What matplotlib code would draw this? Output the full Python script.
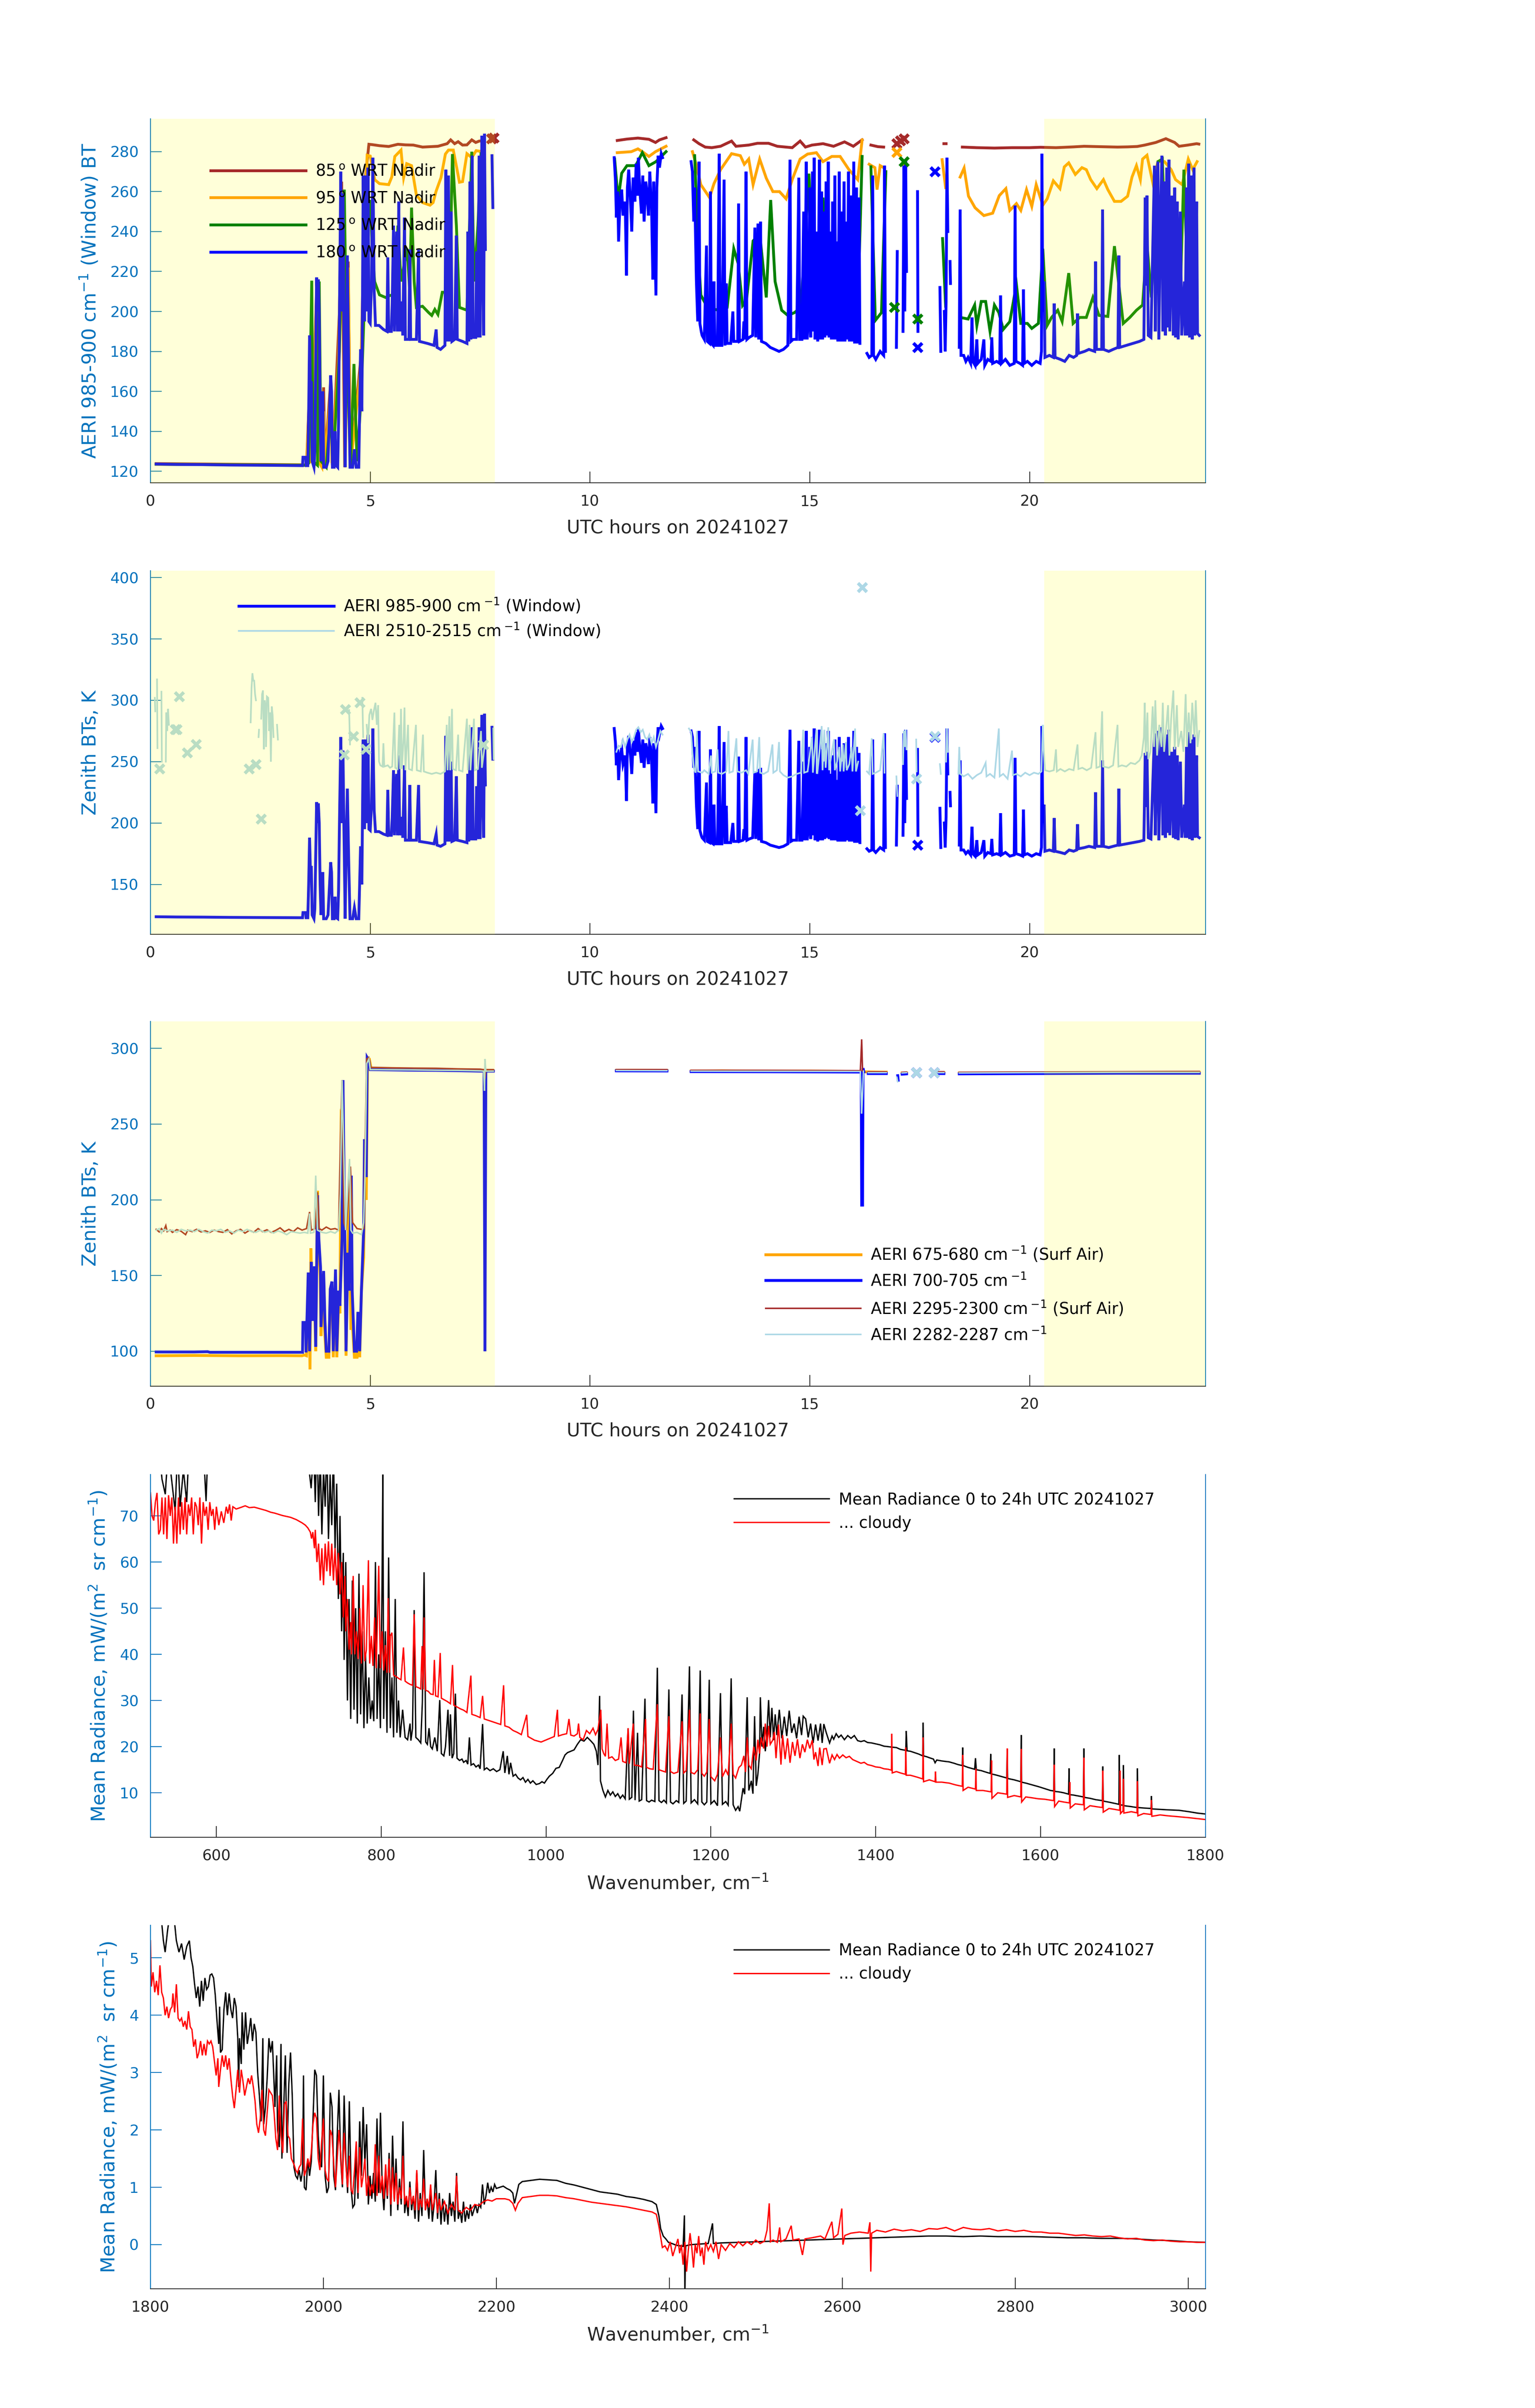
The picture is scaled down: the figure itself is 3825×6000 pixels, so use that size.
import numpy as np
import matplotlib.pyplot as plt
from matplotlib.font_manager import FontProperties

nan = np.nan

# ---------------- time series (UTC hours, K) ----------------
day_spans = [(0.0, 7.83), (20.33, 24.0)]

# 985-900 cm-1 window, zenith (180 deg WRT nadir) -- used in panels 1 and 2
bt_window = [
    (0.13, 123.6), (0.6, 123.4), (1.2, 123.3), (1.8, 123.1), (2.4, 123.0), (3.0, 122.9),
    (3.46, 122.8), (3.47, 127), (3.53, 127), (3.54, 122.8), (3.58, 122.8), (3.6, 150),
    (3.62, 188), (3.64, 160), (3.66, 165), (3.68, 125), (3.72, 122), (3.74, 130), (3.78, 217),
    (3.8, 200), (3.82, 216), (3.84, 200), (3.86, 150), (3.88, 125), (3.92, 160), (3.94, 122),
    (4.0, 122), (4.04, 125), (4.1, 168), (4.12, 160), (4.14, 122), (4.18, 122), (4.2, 140),
    (4.22, 123), (4.26, 122), (4.28, 145), (4.3, 200), (4.33, 270), (4.36, 200), (4.38, 259),
    (4.4, 200), (4.43, 122), (4.46, 195), (4.48, 228), (4.51, 170), (4.54, 122), (4.6, 122),
    (4.64, 131), (4.68, 122), (4.74, 122), (4.78, 181), (4.81, 150), (4.84, 268), (4.87, 195),
    (4.9, 268), (4.92, 200), (4.95, 272), (4.97, 195), (5.0, 194), (5.03, 215), (5.06, 277),
    (5.09, 210), (5.12, 193), (5.2, 193), (5.3, 191), (5.38, 190), (5.4, 227), (5.42, 190),
    (5.48, 190), (5.5, 204), (5.53, 243), (5.55, 190), (5.6, 240), (5.62, 190), (5.65, 255),
    (5.67, 190), (5.72, 205), (5.74, 188), (5.78, 247), (5.8, 186), (5.88, 186), (5.9, 231),
    (5.92, 186), (6.05, 186), (6.1, 231), (6.12, 185), (6.3, 184), (6.45, 183), (6.5, 191),
    (6.52, 182), (6.6, 181), (6.7, 183), (6.72, 271), (6.74, 185), (6.78, 268), (6.8, 185),
    (6.84, 250), (6.86, 185), (6.92, 186), (6.96, 238), (6.98, 186), (7.1, 185), (7.2, 184),
    (7.22, 240), (7.24, 185), (7.27, 265), (7.29, 186), (7.32, 278), (7.34, 187), (7.4, 187),
    (7.42, 230), (7.44, 187), (7.48, 278), (7.5, 187), (7.54, 288), (7.56, 231), (7.58, 188),
    (7.6, 289), (7.62, 231), (7.64, nan), (7.77, 278), (7.79, 252), (7.8, nan),
    (10.55, 277), (10.58, 265), (10.6, 247), (10.63, 260), (10.65, 235), (10.68, 254),
    (10.72, 261), (10.75, 248), (10.8, 255), (10.83, 218), (10.85, 262), (10.88, 271),
    (10.92, 255), (10.95, 240), (10.98, 267), (11.02, 255), (11.05, 274), (11.08, 258),
    (11.1, 277), (11.13, 262), (11.17, 249), (11.2, 268), (11.23, 245), (11.27, 265),
    (11.3, 258), (11.33, 248), (11.36, 270), (11.4, 252), (11.43, 216), (11.45, 265),
    (11.5, 208), (11.52, 262), (11.55, 278), (11.58, 272), (11.62, 279), (11.65, 277), (11.7, nan),
    (12.3, 275), (12.33, 270), (12.36, 245), (12.38, 262), (12.42, 215), (12.45, 195),
    (12.48, 275), (12.5, 194), (12.53, 190), (12.55, 188), (12.6, 186), (12.65, 233),
    (12.67, 185), (12.72, 184), (12.74, 260), (12.76, 184), (12.8, 183), (12.82, 215),
    (12.84, 183), (12.9, 183), (12.94, 279), (12.96, 183), (13.0, 183), (13.05, 266),
    (13.07, 183), (13.1, 214), (13.12, 184), (13.2, 184), (13.25, 200), (13.27, 185),
    (13.36, 185), (13.38, 254), (13.4, 185), (13.48, 186), (13.5, 195), (13.52, 186),
    (13.55, 270), (13.57, 186), (13.62, 187), (13.7, 188), (13.75, 242), (13.77, 187),
    (13.82, 244), (13.84, 186), (13.88, 245), (13.9, 185), (14.0, 184), (14.1, 182),
    (14.2, 181), (14.3, 180), (14.4, 181), (14.5, 183), (14.55, 276), (14.57, 185),
    (14.62, 186), (14.7, 186), (14.75, 267), (14.77, 186), (14.82, 186), (14.86, 250),
    (14.88, 186), (14.92, 275), (14.94, 186), (14.98, 200), (15.0, 262), (15.02, 187),
    (15.06, 270), (15.08, 190), (15.1, 277), (15.12, 186), (15.16, 240), (15.18, 185),
    (15.22, 276), (15.24, 186), (15.27, 260), (15.29, 186), (15.32, 250), (15.34, 187),
    (15.37, 265), (15.39, 188), (15.42, 275), (15.44, 187), (15.47, 240), (15.49, 186),
    (15.52, 255), (15.54, 186), (15.57, 268), (15.59, 186), (15.62, 235), (15.64, 185),
    (15.67, 270), (15.69, 185), (15.72, 250), (15.74, 185), (15.78, 265), (15.8, 185),
    (15.83, 245), (15.85, 186), (15.88, 270), (15.9, 185), (15.94, 258), (15.96, 185),
    (16.0, 275), (16.02, 184), (16.06, 262), (16.08, 184), (16.12, 257), (16.14, 184), (16.18, nan),
    (16.3, 179), (16.35, 177), (16.41, 178), (16.43, 268), (16.45, 178), (16.5, 176),
    (16.55, 178), (16.6, 180), (16.68, 178), (16.7, 273), (16.72, 180), (16.74, nan),
    (16.97, 182), (16.99, 230), (17.0, nan), (17.12, 190), (17.14, 273), (17.16, 200),
    (17.18, 276), (17.2, 220), (17.21, nan), (17.45, 260), (17.46, 190), (17.47, nan),
    (17.96, 212), (17.98, 180), (18.0, nan), (18.06, 200), (18.08, 180), (18.1, 205),
    (18.12, 277), (18.14, 240), (18.15, nan), (18.19, 225), (18.2, 214), (18.21, nan),
    (18.4, 182), (18.42, 251), (18.44, 178), (18.5, 178), (18.55, 175), (18.6, 177),
    (18.66, 174), (18.69, 197), (18.71, 175), (18.76, 173), (18.8, 186), (18.82, 174),
    (18.9, 176), (18.96, 186), (18.98, 173), (19.05, 176), (19.12, 175), (19.14, 187),
    (19.16, 174), (19.25, 175), (19.32, 174), (19.34, 208), (19.36, 174), (19.45, 176),
    (19.55, 173), (19.65, 174), (19.67, 253), (19.69, 175), (19.78, 174), (19.84, 173),
    (19.86, 211), (19.88, 174), (19.95, 175), (20.05, 173), (20.15, 175), (20.24, 174),
    (20.27, 180), (20.28, 279), (20.3, 200), (20.33, 215), (20.35, 177), (20.45, 178),
    (20.54, 177), (20.56, 204), (20.58, 177), (20.7, 176), (20.8, 175), (20.9, 178),
    (21.0, 177), (21.07, 178), (21.09, 199), (21.11, 179), (21.25, 180), (21.35, 181),
    (21.48, 180), (21.5, 225), (21.52, 181), (21.64, 181), (21.66, 251), (21.68, 181),
    (21.8, 180), (21.9, 181), (22.01, 182), (22.03, 228), (22.05, 182), (22.2, 183),
    (22.35, 184), (22.5, 185), (22.6, 186), (22.63, 257), (22.65, 213), (22.67, 258),
    (22.7, 188), (22.76, 187), (22.8, 230), (22.84, 273), (22.86, 190), (22.9, 268),
    (22.92, 275), (22.94, 186), (22.98, 250), (23.01, 278), (23.03, 190), (23.06, 265),
    (23.09, 188), (23.12, 272), (23.14, 192), (23.17, 276), (23.19, 190), (23.24, 258),
    (23.27, 188), (23.3, 262), (23.32, 187), (23.36, 255), (23.38, 186), (23.43, 250),
    (23.46, 188), (23.52, 215), (23.54, 188), (23.57, 262), (23.59, 188), (23.62, 274),
    (23.64, 187), (23.68, 268), (23.7, 186), (23.74, 272), (23.76, 188), (23.8, 255),
    (23.82, 189), (23.86, 188),
]
bt_window_marks = [(17.46, 182), (17.85, 270)]

bt_85 = [
    (0.13, 123.8), (3.5, 123.2), (3.55, 123.2), (3.62, 160), (3.66, 125), (3.78, 210),
    (3.82, 130), (3.9, 122), (3.94, 162), (3.97, 125), (4.1, 165), (4.14, 123), (4.3, 200),
    (4.35, 265), (4.42, 122), (4.5, 225), (4.55, 122), (4.8, 180), (4.88, 265), (4.97, 283.7),
    (5.05, 283.5), (5.21, 283), (5.42, 282.6), (5.63, 283.7), (5.8, 283.4), (5.98, 283.3),
    (6.19, 282.3), (6.54, 282.7), (6.75, 284), (6.83, 285.9), (6.92, 284), (7.0, 285),
    (7.1, 283.3), (7.2, 283.4), (7.31, 285.9), (7.4, 284.6), (7.48, 285.3), (7.59, 285.5), (7.62, nan),
    (10.62, 285.6), (10.84, 286.3), (11.09, 286.8), (11.34, 286.2), (11.49, 284.6),
    (11.58, 285.9), (11.73, 287), (11.75, nan),
    (12.36, 285.9), (12.48, 284), (12.62, 282.3), (12.77, 282), (12.97, 282.7), (13.22, 285.3),
    (13.32, 282.7), (13.61, 283.3), (13.81, 284.2), (14.06, 284.2), (14.26, 282.7), (14.6, 282),
    (14.78, 285.3), (14.9, 282.3), (15.05, 283.3), (15.3, 284), (15.54, 282.7), (15.79, 284.9),
    (15.99, 282.7), (16.19, 285.9), (16.21, nan),
    (16.39, 283.3), (16.55, 282.5), (16.68, 282.3), (16.7, nan), (18.05, 284), (18.1, 284), (18.11, nan),
    (18.47, 282.3), (18.8, 282), (19.2, 281.8), (19.6, 282), (20.0, 282), (20.25, 282.2),
    (20.6, 282), (21.0, 282.4), (21.24, 282.7), (21.6, 282.5), (22.0, 282.3), (22.23, 282.4),
    (22.45, 282.6), (22.62, 283.3), (22.87, 284.6), (23.1, 286.5), (23.3, 284.6), (23.4, 282.7),
    (23.6, 283.3), (23.8, 284), (23.85, 283.8),
]
bt_85_marks = [(7.76, 286.5), (7.82, 286.8), (16.98, 284), (17.06, 285.5), (17.15, 286.5)]

bt_95 = [
    (0.13, 123.5), (3.55, 123), (3.62, 155), (3.66, 124), (3.78, 205), (3.82, 125), (3.9, 122),
    (3.94, 150), (3.97, 123), (4.1, 160), (4.13, 124), (4.28, 175), (4.31, 213), (4.35, 260),
    (4.4, 215), (4.43, 122), (4.5, 222), (4.55, 122), (4.8, 175), (4.88, 255), (4.93, 278.2),
    (5.0, 277.8), (5.1, 266), (5.21, 264), (5.42, 263.5), (5.49, 267.3), (5.56, 277.6),
    (5.7, 280.8), (5.76, 267), (5.83, 274), (5.94, 273), (6.05, 258.3), (6.19, 254.5),
    (6.36, 253.2), (6.43, 254.5), (6.5, 260.3), (6.61, 267), (6.71, 278.8), (6.78, 280.8),
    (6.89, 280.8), (7.03, 264.7), (7.1, 265), (7.2, 279), (7.31, 277), (7.41, 280.5),
    (7.55, 280), (7.6, nan),
    (10.62, 279.5), (10.94, 280), (11.09, 281.4), (11.19, 280), (11.34, 277.6), (11.49, 280),
    (11.73, 282.7), (11.75, nan),
    (12.33, 280), (12.43, 272.4), (12.52, 263.5), (12.72, 257), (12.82, 264), (12.97, 271),
    (13.22, 279), (13.42, 278), (13.51, 273.7), (13.61, 276.3), (13.71, 263.5), (13.86, 276.3),
    (14.01, 266.7), (14.16, 260), (14.31, 260), (14.46, 256.4), (14.6, 266), (14.78, 276.3),
    (14.95, 278.8), (15.15, 279.5), (15.3, 275), (15.5, 277.6), (15.69, 277.6), (15.89, 271),
    (16.09, 266), (16.19, 285.9), (16.21, nan),
    (16.35, 273.7), (16.48, 272), (16.53, 261), (16.6, 273), (16.68, 272), (16.74, nan),
    (17.13, 275), (17.16, 268.6), (17.17, nan), (18.01, 276), (18.09, 262), (18.1, nan),
    (18.42, 267.3), (18.51, 271.8), (18.61, 257.7), (18.76, 251.9), (18.96, 248), (19.16, 249.2),
    (19.31, 258), (19.46, 261.5), (19.55, 250.6), (19.7, 254), (19.8, 250.6), (19.93, 261),
    (20.05, 252.6), (20.15, 263.5), (20.3, 253.2), (20.4, 256.4), (20.54, 265.4), (20.69, 261.5),
    (20.79, 272.4), (20.89, 274.4), (21.04, 268.6), (21.19, 272), (21.29, 271), (21.39, 266),
    (21.53, 261.5), (21.68, 266), (21.78, 261), (21.93, 255.1), (22.08, 255.1), (22.23, 257.7),
    (22.33, 267.3), (22.43, 273), (22.52, 266), (22.57, 276.3), (22.67, 278.2), (22.8, 264.7),
    (22.92, 275), (23.07, 275), (23.22, 271), (23.32, 266), (23.47, 263.5), (23.61, 276.3),
    (23.71, 271), (23.81, 275),
]
bt_95_marks = [(16.98, 279.5)]

bt_125 = [
    (0.13, 123.5), (3.55, 123), (3.6, 124), (3.67, 215.4), (3.7, 125), (3.8, 123), (3.84, 215),
    (3.88, 125), (4.0, 122), (4.1, 150), (4.15, 123), (4.3, 180), (4.35, 230), (4.41, 261),
    (4.45, 200), (4.5, 160), (4.55, 122), (4.63, 173.7), (4.7, 125), (4.8, 160), (4.86, 200),
    (4.92, 240), (5.0, 255.8), (5.05, 230), (5.1, 215), (5.21, 208.3), (5.35, 207), (5.45, 208),
    (5.56, 208.3), (5.63, 243), (5.7, 215), (5.84, 231.4), (5.9, 210), (5.94, 252), (6.0, 215),
    (6.05, 202), (6.19, 202.6), (6.33, 199.4), (6.4, 198), (6.47, 201), (6.54, 198.5),
    (6.64, 209.6), (6.71, 209.6), (6.8, 205), (6.87, 278.8), (6.96, 243), (7.03, 202),
    (7.2, 200.6), (7.31, 280), (7.36, 215), (7.45, 243), (7.52, 279), (7.6, nan),
    (10.56, 276.3), (10.64, 255.8), (10.72, 269.2), (10.84, 273), (11.04, 273), (11.19, 279.5),
    (11.34, 273), (11.5, 275), (11.73, 280), (11.75, nan),
    (12.38, 278), (12.48, 223.7), (12.52, 208.3), (12.67, 202), (12.92, 200.6), (13.12, 202),
    (13.27, 231.4), (13.37, 224), (13.47, 203), (13.56, 205.8), (13.71, 235.3), (13.86, 239),
    (14.01, 207), (14.11, 255.8), (14.21, 215), (14.36, 200.6), (14.5, 198), (14.65, 199.4),
    (14.8, 202), (14.98, 269), (15.1, 203.2), (15.3, 257), (15.4, 220), (15.54, 199.4),
    (15.89, 199.4), (16.09, 199.4), (16.19, 277.6), (16.21, nan),
    (16.39, 272.4), (16.49, 195.5), (16.63, 199.4), (16.73, 270), (16.75, nan),
    (18.02, 236.5), (18.09, 202.6), (18.1, nan),
    (18.47, 196.8), (18.6, 196.2), (18.75, 203.2), (18.8, 193), (18.9, 205), (19.0, 205),
    (19.1, 190), (19.2, 203.2), (19.3, 199.4), (19.4, 191), (19.55, 194.9), (19.7, 213.5),
    (19.8, 194), (19.95, 194), (20.05, 191.5), (20.2, 194), (20.3, 231.4), (20.4, 193),
    (20.5, 197), (20.64, 200.6), (20.74, 195), (20.89, 219.2), (20.99, 194), (21.14, 197),
    (21.29, 197), (21.44, 207), (21.58, 198), (21.78, 197.5), (21.93, 232.7), (22.13, 194),
    (22.28, 197), (22.43, 200.6), (22.57, 203.2), (22.67, 234), (22.77, 207), (22.92, 275),
    (23.02, 276.3), (23.12, 210), (23.22, 205.8), (23.42, 203.2), (23.51, 271), (23.61, 203.2),
    (23.71, 250), (23.81, 205),
]
bt_125_marks = [(16.93, 202), (17.15, 275), (17.46, 196.2)]

# 2510-2515 cm-1 window
bt_2510 = [
    (0.1, 302), (0.11, 291), (0.12, nan), (0.15, 317), (0.16, 261), (0.17, nan),
    (0.25, 307), (0.26, 250), (0.27, nan), (0.35, 250), (0.36, 290), (0.38, 275), (0.4, 293),
    (0.42, 280), (0.44, nan),
    (2.28, 282), (2.3, 310), (2.32, 322), (2.34, 316), (2.36, 316), (2.38, 305), (2.4, 300), (2.42, nan),
    (2.46, 270), (2.47, 276), (2.48, nan), (2.52, 285), (2.54, 305), (2.56, 308), (2.58, 260),
    (2.6, 300), (2.62, 295), (2.63, 262), (2.65, 303), (2.68, 302), (2.7, 275), (2.72, 290),
    (2.74, 250), (2.76, 295), (2.78, 288), (2.8, 270), (2.82, nan), (2.88, 280), (2.9, 268), (2.92, nan),
    (4.52, 292), (4.54, 264), (4.55, nan), (4.82, 302), (4.84, 270), (4.85, nan),
    (4.92, 280), (4.95, 265), (4.98, 288), (5.02, 293), (5.05, 284), (5.08, 291), (5.12, 298),
    (5.15, 280), (5.18, 296), (5.2, 250), (5.23, 247), (5.28, 246), (5.3, 265), (5.32, 246),
    (5.4, 247), (5.45, 245), (5.5, 246), (5.55, 290), (5.57, 245), (5.62, 244), (5.66, 280),
    (5.68, 244), (5.7, 293), (5.72, 244), (5.76, 270), (5.78, 294), (5.8, 243), (5.86, 280),
    (5.88, 244), (5.95, 243), (6.04, 280), (6.06, 243), (6.15, 242), (6.2, 272), (6.22, 242),
    (6.3, 241), (6.4, 240), (6.5, 241), (6.6, 240), (6.7, 242), (6.74, 280), (6.76, 243),
    (6.8, 287), (6.82, 243), (6.86, 293), (6.88, 244), (6.95, 243), (7.0, 272), (7.02, 243),
    (7.1, 242), (7.2, 285), (7.22, 243), (7.26, 280), (7.28, 243), (7.36, 285), (7.38, 243),
    (7.45, 244), (7.52, 275), (7.54, 245), (7.6, 262), (7.62, nan), (7.8, 277), (7.81, 252), (7.82, nan),
    (10.6, 258), (10.65, 263), (10.7, 262), (10.75, 268), (10.8, 262), (10.85, 268), (10.9, 272),
    (10.95, 266), (11.0, 270), (11.05, 276), (11.1, 278), (11.15, 274), (11.2, 276), (11.25, 270),
    (11.3, 268), (11.35, 272), (11.4, 265), (11.45, 270), (11.5, 262), (11.55, 268), (11.6, 275),
    (11.65, 272), (11.7, nan),
    (12.25, 277), (12.3, 274), (12.33, 257), (12.36, 245), (12.4, 241), (12.43, 275),
    (12.46, 242), (12.55, 241), (12.6, 243), (12.7, 240), (12.75, 255), (12.77, 241),
    (12.85, 242), (12.9, 260), (12.92, 241), (13.0, 240), (13.1, 242), (13.15, 275),
    (13.17, 241), (13.25, 242), (13.33, 269), (13.35, 242), (13.45, 241), (13.55, 243),
    (13.6, 240), (13.7, 268), (13.72, 241), (13.8, 242), (13.85, 270), (13.87, 241),
    (13.95, 240), (14.05, 242), (14.15, 264), (14.17, 241), (14.25, 243), (14.3, 266),
    (14.32, 242), (14.4, 239), (14.5, 237), (14.6, 238), (14.7, 240), (14.8, 241), (14.85, 276),
    (14.87, 241), (14.95, 242), (15.05, 270), (15.07, 241), (15.15, 276), (15.17, 240),
    (15.22, 258), (15.27, 279), (15.29, 243), (15.33, 276), (15.36, 245), (15.42, 278),
    (15.44, 243), (15.5, 258), (15.55, 268), (15.57, 243), (15.62, 250), (15.67, 262),
    (15.69, 242), (15.75, 264), (15.77, 242), (15.82, 266), (15.84, 243), (15.9, 248),
    (15.95, 262), (15.97, 242), (16.03, 277), (16.05, 242), (16.1, 250), (16.14, nan),
    (16.3, 242), (16.35, 240), (16.41, 269), (16.43, 240), (16.5, 241), (16.6, 243),
    (16.68, 273), (16.7, 241), (16.74, nan), (16.97, 238), (16.99, 222), (17.0, nan),
    (17.12, 248), (17.14, 275), (17.16, 262), (17.18, 276), (17.2, 260), (17.21, nan),
    (17.42, 268), (17.43, 242), (17.44, nan), (17.96, 248), (17.98, 240), (17.99, nan),
    (18.1, 250), (18.12, 277), (18.14, 258), (18.15, nan),
    (18.38, 240), (18.4, 262), (18.42, 240), (18.5, 238), (18.6, 240), (18.7, 236), (18.8, 239),
    (18.9, 241), (19.0, 249), (19.02, 238), (19.1, 240), (19.2, 237), (19.3, 277), (19.32, 238),
    (19.4, 240), (19.5, 236), (19.6, 259), (19.62, 239), (19.7, 240), (19.8, 238), (19.9, 241),
    (20.0, 239), (20.1, 241), (20.2, 240), (20.27, 242), (20.3, 280), (20.32, 260), (20.35, 243),
    (20.45, 242), (20.55, 243), (20.6, 260), (20.62, 242), (20.7, 244), (20.8, 242), (20.9, 244),
    (21.0, 243), (21.09, 264), (21.11, 244), (21.2, 245), (21.3, 243), (21.4, 245), (21.5, 274),
    (21.52, 245), (21.6, 246), (21.65, 291), (21.67, 246), (21.8, 245), (21.9, 247), (22.0, 280),
    (22.02, 246), (22.1, 247), (22.2, 246), (22.3, 249), (22.4, 248), (22.5, 251), (22.55, 255),
    (22.6, 270), (22.62, 298), (22.64, 255), (22.68, 290), (22.7, 252), (22.75, 258), (22.8, 295),
    (22.83, 262), (22.86, 300), (22.9, 255), (22.95, 280), (23.0, 262), (23.03, 298), (23.06, 258),
    (23.1, 275), (23.15, 296), (23.18, 255), (23.22, 285), (23.27, 308), (23.3, 260), (23.35, 296),
    (23.38, 262), (23.45, 275), (23.5, 258), (23.55, 305), (23.58, 262), (23.62, 290),
    (23.66, 265), (23.7, 298), (23.75, 270), (23.78, 300), (23.82, 262), (23.86, 275),
]
bt_2510_marks = [
    (0.21, 244), (0.57, 276), (0.6, 276), (0.66, 303), (0.84, 257), (1.04, 264), (2.25, 244),
    (2.4, 247.5), (2.52, 203), (4.41, 255.6), (4.44, 292.3), (4.62, 270.5), (4.77, 298),
    (4.9, 260), (7.58, 263.6), (16.15, 210), (16.2, 392), (17.43, 236), (17.85, 270.5),
]

# panel 3: surface-air channels
bt_675 = [
    (0.13, 97), (1.0, 97.2), (2.0, 97.0), (3.0, 97.1), (3.45, 97), (3.5, 97.5), (3.55, 97),
    (3.58, 120), (3.6, 150), (3.63, 88), (3.65, 168), (3.68, 130), (3.72, 150), (3.76, 100),
    (3.8, 206), (3.83, 170), (3.86, 150), (3.88, 110), (3.92, 145), (3.96, 115), (4.0, 96),
    (4.06, 96), (4.09, 135), (4.13, 140), (4.16, 96), (4.21, 145), (4.24, 96), (4.28, 130),
    (4.31, 125), (4.34, 254), (4.38, 250), (4.42, 170), (4.45, 97), (4.49, 160), (4.52, 213),
    (4.56, 115), (4.6, 115), (4.64, 96), (4.7, 96), (4.72, 120), (4.76, 96), (4.8, 140),
    (4.85, 162), (4.88, 230), (4.91, 200), (4.94, 294), (4.98, 293), (5.02, 286.5), (5.5, 286.4),
    (6.0, 286.3), (6.5, 286), (7.0, 285.8), (7.5, 285.6), (7.8, 285.2), (7.82, nan),
    (10.6, 285.5), (11.0, 285.6), (11.5, 285.5), (11.75, 285.4), (11.76, nan),
    (12.3, 285), (13.0, 285.2), (14.0, 284.9), (15.0, 285), (16.0, 284.8), (16.18, 284.8), (16.2, nan),
    (16.25, 284.5), (16.74, 284.3), (16.75, nan), (17.1, 283.8), (17.2, 283.8), (17.21, nan),
    (17.9, 284), (18.05, 284), (18.06, nan), (18.4, 283.8), (20.0, 283.9), (22.0, 284), (23.86, 284.2),
]
bt_700 = [
    (0.13, 99.5), (1.0, 99.5), (1.3, 99.7), (1.35, 99.3), (2.0, 99.3), (3.0, 99.3), (3.46, 99.3),
    (3.47, 119), (3.53, 119), (3.54, 99.3), (3.59, 152), (3.62, 100), (3.66, 159), (3.69, 120),
    (3.73, 156), (3.76, 103), (3.8, 203), (3.83, 175), (3.87, 155), (3.88, 116), (3.94, 153),
    (3.97, 120), (4.0, 100), (4.06, 100), (4.09, 141), (4.13, 146), (4.16, 100), (4.21, 154),
    (4.24, 100), (4.28, 140), (4.31, 130), (4.36, 175), (4.38, 279), (4.42, 180), (4.45, 100),
    (4.49, 165), (4.52, 140), (4.57, 216), (4.59, 140), (4.64, 100), (4.69, 100), (4.72, 126),
    (4.76, 100), (4.8, 140), (4.85, 180), (4.87, 240), (4.91, 215), (4.93, 294), (4.97, 292),
    (5.0, 286), (5.5, 285.8), (6.0, 285.6), (6.5, 285.5), (7.0, 285.3), (7.5, 285), (7.59, 285),
    (7.61, 100), (7.63, 285), (7.8, 285), (7.82, nan),
    (10.6, 285.2), (11.75, 285.1), (11.76, nan),
    (12.3, 284.7), (14.0, 284.6), (16.15, 284.4), (16.17, 284), (16.18, 196.5), (16.2, 196.5),
    (16.21, 287), (16.23, 284.5), (16.25, nan), (16.33, 283.4), (16.74, 283.4), (16.75, nan),
    (17.0, 282), (17.01, 279), (17.02, nan), (17.1, 283), (17.2, 283.2), (17.21, nan),
    (17.9, 283.4), (18.05, 283.4), (18.06, nan), (18.4, 283.2), (20.0, 283.4), (22.0, 283.6),
    (23.86, 283.6),
]
bt_2295 = [
    (0.13, 180.5), (0.2, 178.8), (0.25, 181), (0.3, 179.5), (0.35, 183), (0.38, 179), (0.45, 180),
    (0.5, 178.5), (0.6, 180.3), (0.7, 179.2), (0.8, 177), (0.85, 180), (0.95, 179), (1.05, 180.5),
    (1.15, 178.8), (1.25, 179.5), (1.35, 178.5), (1.45, 180), (1.55, 179), (1.65, 178.5),
    (1.75, 180.3), (1.85, 177.5), (1.95, 179.5), (2.05, 180.5), (2.15, 178), (2.25, 179.8),
    (2.35, 178.6), (2.45, 181), (2.55, 179), (2.65, 180.2), (2.75, 178.5), (2.85, 179.8),
    (2.95, 181.5), (3.05, 179), (3.15, 180.5), (3.25, 179), (3.35, 181.5), (3.45, 180),
    (3.55, 181), (3.62, 192), (3.66, 180), (3.75, 181), (3.8, 205), (3.84, 181), (3.9, 180),
    (4.0, 182), (4.1, 180.5), (4.2, 181), (4.28, 180), (4.33, 250), (4.36, 279), (4.4, 185),
    (4.45, 180), (4.5, 200), (4.55, 222), (4.6, 185), (4.7, 181), (4.8, 180.5), (4.85, 181),
    (4.88, 230), (4.92, 293), (4.97, 294), (5.0, 287.5), (5.5, 287.2), (6.0, 287), (6.5, 286.9),
    (7.0, 286.5), (7.5, 286.3), (7.58, 286), (7.61, 280), (7.63, 286), (7.8, 286), (7.82, nan),
    (10.6, 286), (11.75, 286), (11.76, nan),
    (12.3, 285.5), (14.0, 285.5), (16.15, 285.3), (16.18, 306), (16.2, 285), (16.22, nan),
    (16.33, 284.5), (16.74, 284.5), (16.75, nan), (17.1, 284.2), (17.2, 284.4), (17.21, nan),
    (17.9, 284.6), (18.05, 284.6), (18.06, nan), (18.4, 284.2), (20.0, 284.4), (22.0, 284.6),
    (23.86, 284.8),
]
bt_2282 = [
    (0.13, 180), (0.2, 181), (0.25, 178), (0.3, 180.5), (0.4, 179.5), (0.5, 180), (0.6, 178.5),
    (0.7, 180.5), (0.8, 179.5), (0.9, 180), (1.0, 179), (1.1, 180.5), (1.2, 179), (1.3, 178),
    (1.4, 180), (1.5, 179.5), (1.6, 180.5), (1.7, 178.5), (1.8, 179.5), (1.9, 178), (2.0, 180),
    (2.1, 179), (2.2, 180.5), (2.3, 179), (2.4, 178.5), (2.5, 180), (2.6, 178.5), (2.7, 179.5),
    (2.8, 178), (2.9, 179.5), (3.0, 178.5), (3.1, 177), (3.2, 179), (3.3, 178.5), (3.4, 178),
    (3.5, 178.5), (3.58, 178), (3.62, 191), (3.64, 178), (3.72, 178.5), (3.76, 216), (3.78, 200),
    (3.8, 180), (3.9, 178.5), (4.0, 178), (4.1, 179), (4.2, 178), (4.28, 180), (4.32, 204),
    (4.36, 279), (4.4, 230), (4.44, 180), (4.5, 213), (4.53, 227), (4.56, 180), (4.6, 178),
    (4.7, 178.5), (4.8, 177), (4.85, 185), (4.88, 215), (4.92, 290), (4.97, 293), (5.0, 286),
    (5.5, 285.9), (6.0, 285.8), (6.5, 285.6), (7.0, 285.5), (7.5, 285.2), (7.58, 285),
    (7.6, 272), (7.61, 293), (7.63, 285), (7.8, 285), (7.82, nan),
    (10.6, 285.4), (11.75, 285.3), (11.76, nan),
    (12.3, 285), (16.15, 284.8), (16.18, 257), (16.2, 270), (16.22, 285), (16.23, nan),
    (16.33, 284), (16.74, 284), (16.75, nan), (16.98, 281), (17.0, 278), (17.01, nan),
    (17.1, 283.8), (17.2, 284), (17.21, nan), (17.9, 284), (18.05, 284), (18.06, nan),
    (18.4, 283.8), (20.0, 284), (22.0, 284.2), (23.86, 284.2),
]
p3_marks = [(17.43, 284), (17.83, 284)]

# ---------------- mean spectra (cm-1, mW/(m2 sr cm-1)) ----------------
rad_all_lw = [
    (520, 84), (525, 80), (530, 86), (534, 78), (538, 74.7), (541, 83), (545, 79), (550, 71),
    (553, 85), (556, 72), (560, 80), (564, 73), (567, 86), (575, 84), (580, 87), (585, 82),
    (587.5, 73.2), (590, 86), (600, 88), (620, 89), (650, 90), (680, 89), (700, 87), (710, 84),
    (715, 76), (718, 85), (720, 73), (722, 88), (724, 70), (726, 83), (728, 66), (730, 80),
    (732, 72), (734, 86), (736, 65), (738, 79), (740, 68), (742, 84), (744, 63), (746, 77),
    (748, 52), (750, 70), (752, 45), (754, 62), (755, 38.8), (757, 60), (759, 30), (761, 52),
    (763, 26), (765, 56), (767, 28), (769, 50), (771, 25), (773, 57.5), (775, 27), (777, 45),
    (779, 24), (781, 40), (783, 25), (785, 35), (787, 26), (789, 30), (791, 25.5), (793, 60),
    (795, 26), (797, 40), (799, 24), (801, 55), (802, 80), (803, 26), (805, 45), (807, 23),
    (809, 61), (811, 24), (813, 35), (815, 22), (817, 52), (819, 23), (821, 30), (823, 22),
    (826, 28), (829, 22), (832, 21.5), (835, 25), (836, 21.3), (838, 24), (840, 49.6), (842, 22),
    (845, 21.5), (848, 20.8), (850, 30), (852, 57.8), (854, 21), (856, 20.5), (858, 24),
    (860, 20), (862, 19.5), (865, 22), (868, 19), (871, 30.1), (873, 18.5), (876, 18), (878, 20),
    (881, 28), (883, 18), (884, 27), (886, 17.5), (888, 18.5), (890, 31.5), (892, 17.5),
    (895, 17), (898, 17.3), (900, 16.6), (903, 17), (905, 16.2), (907, 22), (909, 16),
    (912, 16.3), (915, 15.6), (918, 16), (920, 15.2), (923, 24.9), (925, 15), (928, 15.4),
    (932, 14.8), (936, 15.2), (940, 14.6), (944, 15), (948, 19), (950, 14.3), (953, 18),
    (955, 14), (957, 16.5), (960, 13.6), (963, 14), (966, 13.2), (969, 12.8), (972, 13.3),
    (975, 12.3), (978, 12.9), (981, 12.1), (984, 12.6), (988, 11.8), (992, 12), (995, 12.4),
    (998, 12.1), (1001, 12.9), (1004, 13.6), (1008, 14.2), (1012, 15.3), (1016, 15.5),
    (1020, 17), (1023, 18.2), (1026, 18.7), (1030, 19), (1034, 19.3), (1038, 20.5), (1042, 21.5),
    (1046, 21.2), (1050, 22), (1054, 21.3), (1058, 20.5), (1061, 19), (1063, 16), (1065, 31),
    (1066, 12.6), (1069, 10.5), (1072, 9.1), (1075, 10.5), (1078, 9.5), (1081, 10.2),
    (1084, 9.2), (1087, 9.8), (1090, 8.8), (1093, 9.5), (1096, 8.7), (1099.6, 24), (1101, 8.6),
    (1104, 9), (1106, 27.8), (1108, 8.4), (1111, 23), (1113, 8.2), (1116, 8.5), (1120, 30.4),
    (1122, 8.3), (1125, 8), (1128, 8.4), (1132, 8.1), (1135, 37.1), (1137, 8.3), (1140, 7.9),
    (1143, 8.4), (1146, 7.8), (1149, 32.4), (1151, 8), (1154, 7.6), (1158, 8.3), (1161, 7.9),
    (1165, 31.3), (1167, 7.7), (1170, 8.2), (1174, 37.4), (1176, 7.8), (1180, 8.5), (1184, 7.6),
    (1187, 36.5), (1189, 8), (1192, 7.4), (1195, 8), (1198, 34.5), (1200, 7.6), (1204, 8.3),
    (1208, 7.2), (1211.6, 31.6), (1214, 7.5), (1218, 8.1), (1221, 7.3), (1224.6, 34.8),
    (1227, 7.4), (1230, 6.2), (1233, 7), (1235, 6), (1237, 8.5), (1239, 11), (1241, 9.7),
    (1244, 30.7), (1246, 10.5), (1249, 12.6), (1251, 9.8), (1253, 26.6), (1255, 11.5),
    (1257, 14), (1259, 18.5), (1260, 30.7), (1262, 20), (1264, 24.3), (1266, 19), (1268, 23),
    (1270, 30.1), (1272, 22), (1274, 28.4), (1276, 21.4), (1278, 27), (1280, 22.5), (1283, 28),
    (1286, 21.8), (1289, 26.5), (1292, 22.3), (1295, 27.8), (1298, 23), (1301, 25),
    (1304, 21.8), (1307, 26.5), (1310, 22.5), (1312, 26.6), (1315, 26), (1318, 22), (1321, 25),
    (1324, 20.8), (1327, 24.8), (1330, 21.3), (1333, 25), (1335, 20.8), (1337, 24.9),
    (1340, 23), (1344, 20.8), (1347, 22.3), (1349, 21.6), (1352, 22.8), (1355, 22),
    (1358, 22.5), (1362, 21.5), (1366, 22.4), (1370, 21.8), (1374, 22.4), (1378, 21.3),
    (1382, 21.1), (1386, 21.3), (1390, 20.9), (1395, 20.8), (1400, 20.6), (1405, 20.4),
    (1410, 20.1), (1415, 20), (1419, 19.9), (1425, 19.8), (1430, 19.4), (1436.5, 19.2),
    (1437, 23.4), (1438, 19.1), (1442, 19), (1447, 18.7), (1452, 18.4), (1457, 18),
    (1457.5, 25.2), (1458, 18), (1462, 17.8), (1465, 17.6), (1470, 17.3), (1472, 16.5),
    (1474, 17.1), (1480, 16.9), (1489, 16.7), (1495, 16.4), (1500, 16.1), (1505, 15.9),
    (1505.5, 19.8), (1506, 15.9), (1512, 15.5), (1520, 15.1), (1521, 17.5), (1522, 15),
    (1528, 14.8), (1535, 14.4), (1539, 14.2), (1539.5, 18.4), (1540, 14.1), (1547, 13.8),
    (1553, 13.5), (1559, 13.2), (1559.5, 19.5), (1560, 13.1), (1568, 12.8), (1576, 12.4),
    (1576.5, 22.5), (1577, 12.3), (1582, 12.1), (1590, 11.7), (1598, 11.3), (1605, 10.9),
    (1612, 10.5), (1616, 10.4), (1616.5, 19.6), (1617, 10.3), (1622, 10.2), (1628, 10),
    (1634, 9.7), (1634.5, 15.3), (1635, 9.6), (1640, 9.5), (1646, 9.3), (1652, 9.1),
    (1652.5, 19.6), (1653, 9), (1660, 8.8), (1667, 8.5), (1675, 8.3), (1675.5, 15.7),
    (1676, 8.2), (1682, 8), (1690, 7.7), (1695, 7.5), (1695.5, 18.2), (1696, 7.4), (1700, 7.3),
    (1700.5, 16), (1701, 7.2), (1710, 7), (1717, 6.8), (1717.5, 15.3), (1718, 6.8), (1725, 6.7),
    (1734, 6.6), (1734.5, 9.3), (1735, 6.5), (1745, 6.4), (1755, 6.3), (1768, 6.2), (1780, 5.9),
    (1790, 5.6), (1800, 5.4),
]
rad_cloudy_lw = [
    (520, 75), (522, 70), (524, 69), (526, 73), (528, 75), (530, 66), (532, 67), (534, 74),
    (536, 66), (538, 74), (540, 65), (542, 74.5), (544, 70), (546, 74), (548, 64), (550, 72),
    (552, 64), (554, 74), (556, 66), (558, 73), (560, 67), (562, 74), (564, 66), (566, 72.5),
    (568, 70), (570, 74), (572, 66), (574, 73), (576, 72), (578, 68), (580, 74), (582, 64),
    (584, 73), (586, 70), (588, 72), (590, 67), (592, 73), (594, 70), (596, 71.5), (598, 67),
    (600, 72), (603, 68), (606, 71), (609, 68.5), (612, 72), (614, 70.5), (616, 72.5),
    (618, 69), (620, 72), (624, 71.5), (629, 71.8), (635, 72.2), (640, 71.8), (646, 71.9),
    (652, 71.6), (660, 71.2), (666, 70.8), (671, 70.6), (680, 70.1), (690, 69.7), (697, 69.2),
    (704, 68.5), (708, 68), (711, 67.4), (714, 66.5), (715.5, 65.1), (717, 66.5), (719, 63),
    (720, 67), (722, 60), (724, 64), (726, 56), (728, 63), (730, 55), (732, 64), (734, 58),
    (736, 64.5), (738, 57), (740, 64), (742, 56), (744, 63), (746, 55), (748, 62), (750, 53),
    (752, 60), (754, 48), (756, 57), (757, 45), (759, 52), (761, 41), (763, 47), (764, 40),
    (766, 57), (768, 40), (770, 45), (772, 39), (774, 50), (776, 38), (778, 55), (780, 38.5),
    (782, 41), (784.5, 60.4), (786, 38), (788, 44), (790, 37.5), (792, 48), (794, 37),
    (797, 59.2), (799, 37), (801, 45), (803, 36.5), (805, 42), (807, 36), (808.5, 52.2),
    (810, 36), (811, 44), (813, 44.7), (815, 35.5), (818, 35.2), (821, 34.8), (824, 34.5),
    (827, 41.5), (829, 34.2), (832, 33.8), (835, 33.5), (838, 33.3), (840, 48.7), (842, 33),
    (845, 32.8), (848, 32.5), (849.6, 41.8), (851, 32.4), (852, 48), (854, 32.2), (857, 32),
    (860, 31.4), (863, 31.3), (864.5, 38.8), (866, 31), (869, 30.8), (871.6, 40.3), (873, 30.5),
    (876, 30.2), (880, 29.8), (884, 29.3), (886.5, 37.7), (888, 29), (892, 28.6), (896, 28.2),
    (900, 27.9), (904, 27.4), (908.8, 35.4), (910, 27), (915, 26.7), (920, 26.3), (923, 31),
    (925, 26), (930, 25.7), (935, 25.4), (940, 25.1), (945, 24.8), (948.5, 33.3), (950, 24.5),
    (955, 24.2), (960, 23.5), (965, 23.1), (970, 22.6), (976.5, 26.9), (978, 22.2), (982, 21.8),
    (986, 21.4), (990, 21.2), (994, 21), (998, 21.3), (1002, 21.6), (1006, 21.9), (1010, 22.2),
    (1013.8, 28), (1015, 22.3), (1020, 22.6), (1025, 22.8), (1027.8, 26), (1030, 22.5),
    (1034, 22.3), (1038, 22.8), (1039.4, 25), (1041, 22), (1045, 21.5), (1049, 23.5),
    (1053, 22.8), (1057, 24), (1060, 22.6), (1063, 23.7), (1066.4, 28), (1068, 19.5),
    (1070, 18.5), (1072, 17.9), (1074, 25), (1076, 17.5), (1080, 17.8), (1084, 17), (1088, 17.3),
    (1091, 22), (1093, 16.8), (1097, 16.5), (1099.6, 24), (1101, 16.3), (1105.8, 25), (1107, 16),
    (1112, 15.9), (1116, 15.6), (1120.7, 26), (1122, 15.5), (1126, 15.2), (1130, 15.1),
    (1135, 29.2), (1137, 15), (1140, 14.8), (1145, 14.5), (1149, 26.6), (1151, 14.6),
    (1155, 14.2), (1160, 14.5), (1165, 25.5), (1167, 14.3), (1170, 14.8), (1174, 28),
    (1176, 14.4), (1180, 14.1), (1184, 15), (1187, 27.2), (1189, 14.2), (1192, 13.6),
    (1195, 14.5), (1198, 26), (1200, 13.5), (1204.6, 12.6), (1208, 14), (1211.6, 22),
    (1214, 13.5), (1218, 15), (1221, 13.8), (1224.6, 25), (1227, 14), (1230, 13.2), (1234, 15.5),
    (1237, 16), (1240, 18), (1242, 14.5), (1244, 22), (1246, 16), (1249, 15.2), (1252, 20),
    (1255, 17), (1257, 21.5), (1259, 18.5), (1261, 22), (1264, 19.6), (1266, 25), (1268, 20),
    (1270, 24.5), (1272, 20.5), (1275, 21.4), (1277, 23.2), (1279, 17.5), (1282, 24.8),
    (1285, 16.1), (1287, 22.5), (1290, 17.3), (1293, 21.8), (1296, 16.5), (1299, 21),
    (1302, 18), (1305, 21.6), (1308, 17.5), (1311, 20.5), (1314, 18.8), (1317, 21.5),
    (1320, 19.6), (1323, 21.4), (1325, 17.2), (1327, 18.8), (1330, 15.8), (1332, 19.8),
    (1335, 16), (1337, 19.5), (1340, 19.6), (1344, 16.4), (1347, 18.2), (1350, 17.2),
    (1353, 18.3), (1356, 17.5), (1360, 18.2), (1364, 17.6), (1368, 17.9), (1372, 17.2),
    (1377, 16.8), (1382, 16.4), (1386, 16.6), (1390, 16.1), (1395, 15.9), (1400, 15.6),
    (1405, 15.5), (1410, 15.2), (1415, 15.1), (1419, 14.9), (1419.5, 22.8), (1420, 14.3),
    (1425, 14.6), (1430, 14.3), (1436, 14), (1436.5, 19.8), (1437, 13.8), (1442, 13.8),
    (1450, 13.4), (1457, 13), (1457.5, 22), (1458, 12.4), (1465, 12.8), (1472, 12.4),
    (1472.5, 14.6), (1473, 12.3), (1480, 12.3), (1489, 12.1), (1497, 11.7), (1505, 11.4),
    (1505.5, 18.2), (1506, 10.5), (1512, 11.2), (1521, 10.8), (1521.5, 15.2), (1522, 10.5),
    (1530, 10.5), (1540, 10.2), (1540.5, 17), (1541, 8.8), (1548, 10), (1559, 9.7),
    (1559.5, 19.6), (1560, 9), (1568, 9.4), (1576, 9.1), (1576.5, 19.5), (1577, 8), (1582, 9.1),
    (1590, 8.9), (1597, 8.7), (1605, 8.6), (1612, 8.4), (1616, 8.3), (1616.5, 16.1), (1617, 7),
    (1622, 8.2), (1628, 8), (1635, 7.8), (1635.5, 12.3), (1636, 6.7), (1642, 7.6), (1652, 7.4),
    (1652.5, 17.6), (1653, 6.3), (1660, 7.2), (1667, 7), (1675, 6.8), (1675.5, 14.8),
    (1676, 5.8), (1683, 6.6), (1690, 6.4), (1696, 6.2), (1696.5, 14.8), (1697, 5.5), (1700, 6.1),
    (1700.5, 13), (1701, 5.6), (1710, 5.9), (1717, 5.65), (1717.5, 12.5), (1718, 5),
    (1725, 5.5), (1734, 5.3), (1734.5, 8.4), (1735, 4.9), (1745, 5.2), (1755, 5), (1768, 4.8),
    (1780, 4.6), (1790, 4.4), (1800, 4.2),
]
rad_all_sw = [
    (1800, 5.9), (1805, 5.8), (1810, 6.1), (1815, 5.3), (1817, 5.1), (1820, 5.5), (1824, 5.9),
    (1828, 5.6), (1830, 5.3), (1833, 5.1), (1836, 5.25), (1839, 4.97), (1842, 5.2), (1845, 5.3),
    (1847, 5.0), (1849, 4.85), (1851, 4.55), (1853, 4.3), (1855, 4.5), (1857, 4.15), (1859, 4.6),
    (1861, 4.25), (1863, 4.65), (1865, 4.45), (1867, 4.5), (1869, 4.7), (1871, 4.72),
    (1873, 4.65), (1875, 4.35), (1877, 3.9), (1879, 3.5), (1880, 4.15), (1881, 3.35),
    (1883, 3.4), (1885, 4.1), (1887, 4.4), (1889, 4.0), (1891, 4.38), (1893, 4.1), (1895, 3.95),
    (1897, 4.3), (1899, 4.15), (1901, 3.6), (1902, 2.75), (1903, 3.6), (1905, 3.15), (1906, 4.05),
    (1908, 3.4), (1910, 4.05), (1912, 3.5), (1914, 3.7), (1916, 3.95), (1918, 3.55), (1920, 3.85),
    (1922, 3.7), (1924, 3.0), (1926, 2.6), (1928, 2.15), (1930, 3.6), (1931, 2.1), (1933, 2.4),
    (1935, 2.9), (1937, 3.6), (1939, 3.35), (1941, 3.55), (1943, 2.8), (1944, 2.4), (1946, 3.3),
    (1947, 2.0), (1949, 1.7), (1951, 3.5), (1952, 1.5), (1954, 2.3), (1956, 3.3), (1958, 1.6),
    (1960, 2.8), (1962, 3.35), (1964, 2.6), (1966, 1.35), (1968, 1.2), (1970, 1.15), (1972, 1.3),
    (1974, 1.1), (1976, 1.3), (1977, 2.95), (1978, 1.0), (1980, 0.95), (1982, 1.5), (1984, 1.2),
    (1986, 1.45), (1988, 2.2), (1990, 3.05), (1992, 2.95), (1994, 1.9), (1996, 1.45),
    (1998, 1.35), (2000, 2.95), (2002, 1.2), (2004, 0.9), (2006, 1.0), (2008, 2.65), (2010, 2.4),
    (2012, 1.2), (2014, 0.95), (2016, 1.9), (2018, 2.7), (2020, 1.5), (2022, 1.0), (2024, 2.6),
    (2026, 1.5), (2028, 0.9), (2030, 2.5), (2032, 1.0), (2034, 0.65), (2036, 0.7), (2038, 1.6),
    (2040, 0.8), (2042, 2.15), (2044, 1.2), (2046, 2.4), (2048, 1.4), (2050, 2.1), (2052, 0.7),
    (2054, 1.2), (2056, 0.8), (2058, 1.25), (2060, 0.75), (2062, 2.2), (2064, 0.9), (2066, 2.3),
    (2068, 1.0), (2070, 0.6), (2072, 1.2), (2074, 0.8), (2076, 1.6), (2078, 0.5), (2080, 1.9),
    (2082, 0.8), (2084, 1.5), (2086, 0.6), (2088, 1.15), (2090, 0.7), (2092, 2.15), (2094, 0.55),
    (2096, 0.8), (2098, 0.5), (2100, 1.1), (2102, 0.6), (2104, 0.85), (2106, 0.45), (2108, 1.25),
    (2110, 0.4), (2112, 0.9), (2114, 0.5), (2116, 1.65), (2118, 0.6), (2120, 0.8), (2122, 0.45),
    (2124, 1.0), (2126, 0.4), (2128, 0.7), (2130, 1.3), (2132, 0.45), (2134, 0.9), (2136, 0.35),
    (2138, 0.8), (2140, 0.4), (2142, 0.7), (2144, 0.35), (2146, 0.9), (2148, 0.5), (2150, 0.75),
    (2152, 0.4), (2154, 1.25), (2156, 0.45), (2158, 0.6), (2160, 0.38), (2162, 0.75), (2164, 0.4),
    (2166, 0.6), (2168, 0.45), (2170, 0.7), (2172, 0.5), (2174, 0.6), (2176, 0.7), (2178, 0.55),
    (2180, 0.7), (2182, 0.65), (2184, 1.05), (2186, 0.7), (2188, 0.85), (2190, 1.08), (2192, 0.9),
    (2194, 1.0), (2196, 0.92), (2198, 1.05), (2200, 0.98), (2204, 1.0), (2208, 1.02),
    (2212, 0.98), (2216, 0.95), (2219, 0.9), (2221, 0.72), (2223, 0.85), (2226, 1.05),
    (2230, 1.1), (2240, 1.12), (2250, 1.14), (2260, 1.13), (2270, 1.12), (2280, 1.07),
    (2290, 1.04), (2300, 1.0), (2310, 0.96), (2320, 0.92), (2330, 0.9), (2340, 0.88),
    (2350, 0.84), (2360, 0.82), (2370, 0.79), (2380, 0.75), (2385, 0.7), (2388, 0.5),
    (2390, 0.28), (2393, 0.15), (2396, 0.1), (2399, 0.04), (2403, 0.02), (2408, -0.01),
    (2412, -0.02), (2416, -0.03), (2417.5, 0.51), (2418, -0.8), (2419, -0.02), (2425, 0.0),
    (2435, 0.01), (2445, 0.02), (2450, 0.37), (2451, 0.02), (2460, 0.03), (2480, 0.04),
    (2500, 0.05), (2520, 0.06), (2540, 0.07), (2560, 0.08), (2580, 0.09), (2600, 0.1),
    (2620, 0.11), (2640, 0.12), (2660, 0.13), (2680, 0.14), (2700, 0.15), (2720, 0.15),
    (2740, 0.14), (2760, 0.15), (2780, 0.14), (2800, 0.14), (2820, 0.14), (2840, 0.13),
    (2860, 0.12), (2880, 0.12), (2900, 0.11), (2920, 0.11), (2940, 0.1), (2960, 0.08),
    (2980, 0.07), (3000, 0.05), (3020, 0.04),
]
rad_cloudy_sw = [
    (1800, 5.3), (1801, 4.5), (1803, 4.75), (1805, 4.4), (1807, 4.6), (1809, 4.35), (1811, 4.87),
    (1813, 4.4), (1815, 4.3), (1817, 4.0), (1819, 4.15), (1821, 3.95), (1823, 4.1), (1825, 4.15),
    (1826, 4.38), (1828, 4.05), (1830, 4.54), (1832, 3.95), (1834, 3.9), (1836, 3.95),
    (1838, 3.8), (1840, 3.9), (1842, 3.75), (1844, 4.07), (1846, 3.8), (1848, 3.75), (1850, 3.45),
    (1852, 3.58), (1854, 3.25), (1856, 3.35), (1858, 3.55), (1860, 3.3), (1862, 3.5),
    (1864, 3.3), (1866, 3.55), (1868, 3.5), (1870, 3.55), (1872, 3.45), (1874, 3.2),
    (1876, 2.95), (1878, 3.25), (1879, 2.75), (1881, 3.05), (1883, 3.3), (1885, 3.1),
    (1887, 3.3), (1889, 3.05), (1891, 3.25), (1893, 2.9), (1895, 2.6), (1897, 2.38), (1899, 2.7),
    (1901, 3.05), (1903, 2.65), (1905, 3.05), (1907, 2.85), (1909, 2.6), (1911, 2.75),
    (1913, 2.9), (1915, 2.8), (1917, 2.95), (1919, 2.75), (1921, 2.5), (1923, 2.1), (1925, 1.95),
    (1927, 2.2), (1929, 2.7), (1931, 2.0), (1933, 1.9), (1935, 2.3), (1937, 2.7), (1939, 2.65),
    (1941, 2.6), (1943, 2.3), (1945, 1.85), (1947, 1.65), (1949, 2.6), (1951, 1.9), (1953, 1.6),
    (1955, 2.45), (1957, 2.5), (1959, 1.9), (1961, 1.85), (1963, 1.5), (1966, 1.4), (1968, 1.3),
    (1970, 1.25), (1972, 1.35), (1974, 1.4), (1976, 2.2), (1978, 1.2), (1980, 1.3), (1982, 1.5),
    (1984, 1.35), (1986, 1.6), (1988, 2.1), (1990, 2.3), (1992, 2.2), (1994, 1.5), (1996, 1.3),
    (1998, 1.8), (2000, 2.2), (2002, 1.3), (2004, 1.15), (2006, 1.1), (2008, 2.0), (2010, 1.9),
    (2012, 1.4), (2014, 1.0), (2016, 1.5), (2018, 2.0), (2020, 1.6), (2022, 1.05), (2024, 1.95),
    (2026, 1.4), (2028, 1.0), (2030, 1.55), (2032, 0.95), (2034, 0.9), (2036, 1.3), (2038, 1.8),
    (2040, 0.9), (2042, 1.7), (2044, 1.0), (2046, 1.2), (2048, 1.5), (2050, 0.85), (2052, 1.2),
    (2054, 0.85), (2056, 1.05), (2058, 0.9), (2060, 1.75), (2062, 0.85), (2064, 1.55),
    (2066, 0.9), (2068, 1.2), (2070, 0.8), (2072, 1.4), (2074, 0.85), (2076, 1.5), (2078, 0.7),
    (2080, 1.35), (2082, 0.75), (2084, 1.25), (2086, 0.7), (2088, 1.0), (2090, 0.8),
    (2092, 1.55), (2094, 0.7), (2096, 0.85), (2098, 0.65), (2100, 1.0), (2102, 0.7),
    (2104, 0.85), (2106, 0.6), (2108, 1.3), (2110, 0.6), (2112, 0.8), (2114, 0.65), (2116, 1.15),
    (2118, 0.6), (2120, 0.8), (2122, 0.65), (2124, 1.05), (2126, 0.6), (2128, 0.75), (2130, 0.9),
    (2132, 0.55), (2134, 0.8), (2136, 0.6), (2140, 0.75), (2144, 0.55), (2148, 0.7), (2152, 0.6),
    (2154, 1.2), (2156, 0.6), (2160, 0.55), (2165, 0.65), (2170, 0.6), (2175, 0.7), (2180, 0.68),
    (2185, 0.75), (2190, 0.78), (2195, 0.76), (2200, 0.8), (2205, 0.8), (2210, 0.8),
    (2215, 0.78), (2219, 0.72), (2222, 0.6), (2225, 0.72), (2230, 0.82), (2240, 0.84),
    (2250, 0.86), (2260, 0.86), (2270, 0.85), (2280, 0.82), (2290, 0.8), (2300, 0.77),
    (2310, 0.74), (2320, 0.72), (2330, 0.7), (2340, 0.68), (2350, 0.66), (2360, 0.63),
    (2370, 0.6), (2380, 0.57), (2385, 0.53), (2388, 0.32), (2392, -0.05), (2395, -0.02),
    (2398, -0.1), (2401, 0.05), (2404, -0.2), (2407, -0.05), (2410, 0.1), (2412, -0.15),
    (2414, 0.0), (2416, -0.35), (2418, 0.05), (2420, -0.47), (2422, -0.1), (2424, 0.2),
    (2426, -0.05), (2428, -0.4), (2430, 0.0), (2432, -0.15), (2434, 0.15), (2436, -0.2),
    (2438, -0.05), (2440, -0.35), (2442, 0.05), (2445, -0.1), (2448, 0.0), (2451, -0.12),
    (2454, 0.05), (2457, -0.25), (2460, 0.0), (2465, -0.1), (2470, 0.02), (2475, -0.05),
    (2480, 0.05), (2485, -0.02), (2490, 0.05), (2495, 0.0), (2500, 0.08), (2505, 0.02),
    (2510, 0.06), (2513, 0.25), (2515.6, 0.72), (2517, 0.05), (2520, 0.08), (2525, 0.04),
    (2527.6, 0.3), (2529, 0.05), (2535, 0.1), (2541, 0.33), (2543, 0.08), (2550, 0.1),
    (2554, -0.18), (2557, 0.1), (2565, 0.12), (2575, 0.15), (2580, 0.1), (2588, 0.4),
    (2590, 0.12), (2595, 0.18), (2599.5, 0.63), (2600.8, 0.0), (2603, 0.16), (2610, 0.2),
    (2620, 0.22), (2630, 0.2), (2632, 0.39), (2633, -0.47), (2634, 0.2), (2640, 0.25),
    (2650, 0.22), (2660, 0.27), (2670, 0.24), (2680, 0.26), (2690, 0.23), (2700, 0.28),
    (2710, 0.27), (2720, 0.3), (2730, 0.24), (2740, 0.3), (2750, 0.27), (2760, 0.26),
    (2770, 0.28), (2780, 0.24), (2790, 0.26), (2800, 0.23), (2810, 0.25), (2820, 0.22),
    (2830, 0.22), (2840, 0.2), (2850, 0.2), (2860, 0.18), (2870, 0.16), (2880, 0.17),
    (2890, 0.15), (2900, 0.14), (2910, 0.15), (2920, 0.12), (2930, 0.1), (2940, 0.11),
    (2950, 0.08), (2960, 0.07), (2970, 0.08), (2980, 0.06), (2990, 0.05), (3000, 0.05),
    (3010, 0.04), (3020, 0.04),
]

# ---------------- drawing ----------------
AX_BLUE = "#0072BD"
DARK = "#262626"
BROWN, ORANGE, GREEN, BLUE, LBLUE = "#A52A2A", "#FFA500", "#008000", "#0000FF", "#ADD8E6"


def font(size):
    return FontProperties(family="DejaVu Sans", size=size)


def xy(pairs):
    a = np.array(pairs, dtype=float)
    return a[:, 0], a[:, 1]


def line(ax, pairs, color, lw, label=None):
    x, y = xy(pairs)
    return ax.plot(x, y, color=color, lw=lw, label=label, solid_joinstyle="miter")[0]


def marks(ax, pairs, color):
    x, y = xy(pairs)
    ax.plot(x, y, ls="none", marker="x", ms=5.5, mew=2.0, color=color)


def style(ax, xlim, ylim, xticks, yticks, xlabel, ylabel):
    ax.set_xlim(*xlim)
    ax.set_ylim(*ylim)
    ax.spines["top"].set_visible(False)
    ax.spines["left"].set_color(AX_BLUE)
    ax.spines["right"].set_color(AX_BLUE)
    ax.spines["bottom"].set_color(DARK)
    for s in ax.spines.values():
        s.set_linewidth(0.5)
    ax.tick_params(direction="in", length=6.8, width=0.5, top=False, right=False)
    ax.tick_params(axis="y", colors=AX_BLUE, labelsize=9, pad=7)
    ax.tick_params(axis="x", colors=DARK, pad=7)
    ax.set_yticks(yticks)
    ax.set_xticks(xticks, [str(v) for v in xticks], fontproperties=font(9))
    ax.set_xlabel(xlabel, color=DARK, fontproperties=font(11), labelpad=6)
    ax.set_ylabel(ylabel, color=AX_BLUE, fontsize=11.5, labelpad=6)


def shade(ax):
    for a, b in day_spans:
        ax.axvspan(a, b, facecolor="yellow", alpha=0.15, lw=0, zorder=5)


def legend(ax, anchor, spacing):
    leg = ax.legend(loc="upper left", bbox_to_anchor=anchor, frameon=False, prop=font(9.5),
                    handlelength=6, handletextpad=0.6, labelspacing=spacing,
                    borderpad=0, borderaxespad=0)
    leg.set_zorder(6)


fig = plt.figure(figsize=(12.75, 20), dpi=300)
left, width = 0.098, 0.6873
ax1 = fig.add_axes([left, 0.7995, width, 0.1512])
ax2 = fig.add_axes([left, 0.612, width, 0.151])
ax3 = fig.add_axes([left, 0.4244, width, 0.1514])
ax4 = fig.add_axes([left, 0.237, width, 0.1507])
ax5 = fig.add_axes([left, 0.0495, width, 0.151])

hours_ticks = [0, 5, 10, 15, 20]
xlab_t = "UTC hours on 20241027"

# panel 1
line(ax1, bt_85, BROWN, 1.7, r"85$\,^{\rm o}$ WRT Nadir")
line(ax1, bt_95, ORANGE, 1.7, r"95$\,^{\rm o}$ WRT Nadir")
line(ax1, bt_125, GREEN, 1.7, r"125$\,^{\rm o}$ WRT Nadir")
line(ax1, bt_window, BLUE, 1.7, r"180$\,^{\rm o}$ WRT Nadir")
marks(ax1, bt_85_marks, BROWN)
marks(ax1, bt_95_marks, ORANGE)
marks(ax1, bt_125_marks, GREEN)
marks(ax1, bt_window_marks, BLUE)
style(ax1, (0, 24), (114.2, 296.5), hours_ticks, range(120, 281, 20), xlab_t,
      r"AERI 985-900 cm$^{-1}$ (Window) BT")
shade(ax1)
legend(ax1, (0.057, 0.877), 0.7)

# panel 2
line(ax2, bt_window, BLUE, 1.7, r"AERI 985-900 cm$\,^{-1}$ (Window)")
line(ax2, bt_2510, LBLUE, 1.0, r"AERI 2510-2515 cm$\,^{-1}$ (Window)")
marks(ax2, bt_window_marks, BLUE)
marks(ax2, bt_2510_marks, LBLUE)
style(ax2, (0, 24), (109.3, 405.6), hours_ticks, range(150, 401, 50), xlab_t, "Zenith BTs, K")
shade(ax2)
legend(ax2, (0.0837, 0.928), 0.42)

# panel 3
line(ax3, bt_675, ORANGE, 1.7, r"AERI 675-680 cm$\,^{-1}$ (Surf Air)")
line(ax3, bt_700, BLUE, 1.7, r"AERI 700-705 cm$\,^{-1}$")
line(ax3, bt_2295, BROWN, 0.9, r"AERI 2295-2300 cm$\,^{-1}$ (Surf Air)")
line(ax3, bt_2282, LBLUE, 0.9, r"AERI 2282-2287 cm$\,^{-1}$")
marks(ax3, p3_marks, BLUE)
marks(ax3, p3_marks, LBLUE)
style(ax3, (0, 24), (77.0, 317.8), hours_ticks, range(100, 301, 50), xlab_t, "Zenith BTs, K")
shade(ax3)
legend(ax3, (0.583, 0.386), 0.62)

# panels 4 and 5
rad_label = r"Mean Radiance, mW/(m$^2$  sr cm$^{-1}$)"
wn_label = r"Wavenumber, cm$^{-1}$"
for ax, black, red, xl, yl, xt, yt in [
    (ax4, rad_all_lw, rad_cloudy_lw, (520, 1800), (0.35, 79.0), range(600, 1801, 200), range(10, 71, 10)),
    (ax5, rad_all_sw, rad_cloudy_sw, (1800, 3020), (-0.77, 5.57), range(1800, 3001, 200), range(0, 6)),
]:
    line(ax, black, "black", 0.8, "Mean Radiance 0 to 24h UTC 20241027")
    line(ax, red, "#FF0000", 0.8, "... cloudy")
    style(ax, xl, yl, list(xt), yt, wn_label, rad_label)
    legend(ax, (0.553, 0.952), 0.48)

fig.savefig("out.png", dpi=300)
